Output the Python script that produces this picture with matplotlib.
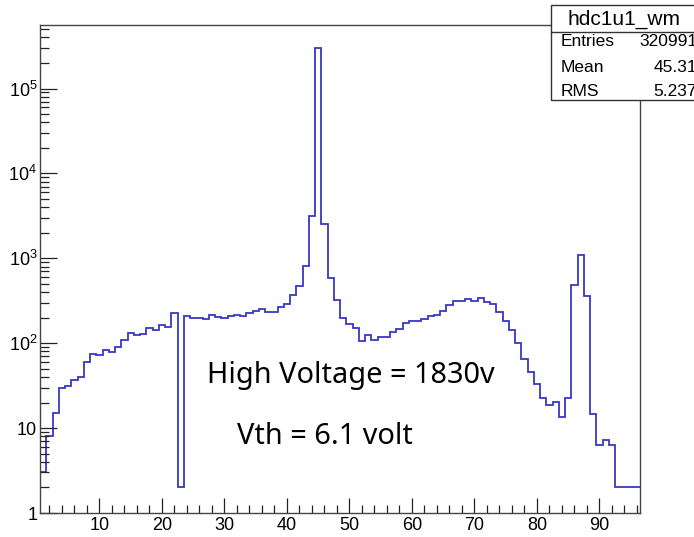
import matplotlib
matplotlib.use("Agg")
import matplotlib.pyplot as plt
import numpy as np
from matplotlib.ticker import FixedLocator, FixedFormatter, NullFormatter

# ---- data (bin contents, bins centred on 1..96) ----
bin_centers = list(range(1, 97))
counts = [
    3, 8, 15, 30, 31, 37, 40, 60, 74, 73,          # 1-10
    83, 79, 90, 109, 131, 126, 130, 151, 142, 163,  # 11-20
    154, 227, 2, 208, 199, 199, 195, 213, 202, 199, # 21-30
    208, 217, 210, 227, 238, 256, 234, 232, 268, 290, # 31-40
    367, 468, 820, 3150, 300000, 2570, 590, 320, 200, 169, # 41-50
    150, 107, 126, 110, 117, 117, 134, 149, 173, 185, # 51-60
    182, 193, 212, 217, 242, 280, 312, 318, 336, 318, # 61-70
    341, 303, 293, 234, 181, 142, 101, 66, 46, 33,   # 71-80
    22.7, 18.7, 20.4, 13.5, 22.7, 490, 1090, 364, 14.5, 6.25, # 81-90
    7.2, 6.25, 2, 2, 2, 2,                           # 91-96
]
x_major = [10, 20, 30, 40, 50, 60, 70, 80, 90]
y_major = [1, 10, 100, 1000, 10000, 100000]
y_labels = ["1", "10", "$10^{2}$", "$10^{3}$", "$10^{4}$", "$10^{5}$"]

hist_name = "hdc1u1_wm"
stat_names = ["Entries", "Mean", "RMS"]
stat_values = ["320991", "45.31", "5.237"]
note1 = "High Voltage = 1830v"
note2 = "Vth = 6.1 volt"

plt.rcParams['font.family'] = ['Liberation Sans', 'DejaVu Sans']
plt.rcParams['mathtext.default'] = 'regular'

W, H = 694, 537
fig = plt.figure(figsize=(W / 100, H / 100), dpi=100)
ax = fig.add_axes([40 / W, 24 / H, 600 / W, 488 / H])

edges = np.concatenate([np.array(bin_centers) - 0.5, [bin_centers[-1] + 0.5]])
ax.stairs(counts, edges, baseline=None, color='#3838c4', linewidth=1.3)

ax.set_yscale('log')
ax.set_xlim(0.5, 96.5)
ax.set_ylim(1, 5.6e5)

ax.xaxis.set_major_locator(FixedLocator(x_major))
ax.xaxis.set_minor_locator(FixedLocator(np.arange(2, 97, 2)))
ax.yaxis.set_major_locator(FixedLocator(y_major))
ax.yaxis.set_major_formatter(FixedFormatter(y_labels))
minor_y = [m * 10 ** e for e in range(0, 6) for m in range(2, 10)]
ax.yaxis.set_minor_locator(FixedLocator(minor_y))
ax.yaxis.set_minor_formatter(NullFormatter())

ax.tick_params(axis='x', which='major', direction='in', length=10.8, width=0.9,
               labelsize=13, pad=3, colors='#222222', labelcolor='black')
ax.tick_params(axis='x', which='minor', direction='in', length=5.5, width=0.9, colors='#222222')
ax.tick_params(axis='y', which='major', direction='in', length=12.2, width=0.9,
               labelsize=13, pad=2, colors='#222222', labelcolor='black')
ax.tick_params(axis='y', which='minor', direction='in', length=6.5, width=0.9, colors='#222222')
ax.tick_params(top=False, right=False, which='both')
for s in ax.spines.values():
    s.set_color('#444444')
    s.set_linewidth(1.0)

# annotations
fig.text(207 / W, 1 - 376 / H, note1, fontsize=20.8,
         family=['Noto Sans', 'DejaVu Sans'], va='center', ha='left')
fig.text(237 / W, 1 - 437 / H, note2, fontsize=20.8,
         family=['Noto Sans', 'DejaVu Sans'], va='center', ha='left')

# stats box
bx0, bx1, by0, by1, bdiv = 551, 697, 5, 100, 32
box = plt.Rectangle((bx0 / W, 1 - by1 / H), (bx1 - bx0) / W, (by1 - by0) / H,
                    transform=fig.transFigure, facecolor='white', edgecolor='#333333',
                    linewidth=1.0, zorder=5)
fig.patches.append(box)
fig.add_artist(plt.Line2D([bx0 / W, bx1 / W], [1 - bdiv / H, 1 - bdiv / H],
                          color='#333333', linewidth=1.0, zorder=6))
fig.text((bx0 + bx1) / 2 / W, 1 - 19 / H, hist_name, ha='center', va='center',
         fontsize=15, zorder=7)
row_y = [42, 67, 91]
for name, val, yy in zip(stat_names, stat_values, row_y):
    fig.text(561 / W, 1 - yy / H, name, ha='left', va='center', fontsize=12.5, zorder=7)
    fig.text(697 / W, 1 - yy / H, val, ha='right', va='center', fontsize=12.5, zorder=7)

fig.savefig('out.png', dpi=100)
